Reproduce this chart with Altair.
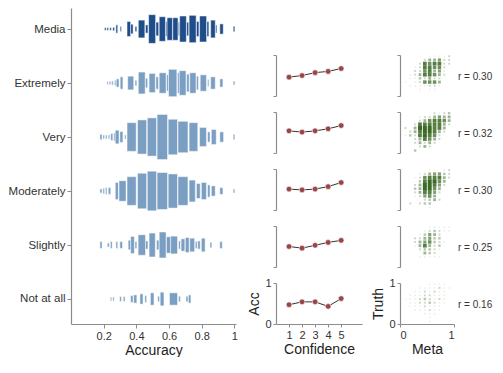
import altair as alt
import pandas as pd

FONT = "Liberation Sans"

CATS = ["Media", "Extremely", "Very", "Moderately", "Slightly", "Not at all"]

# histogram bars: (accuracy bin low, accuracy bin high, count)
HIST_MEDIA = [(0.205,0.215,4),(0.220,0.230,4),(0.237,0.247,4),(0.256,0.267,5),(0.275,0.286,12),
              (0.301,0.309,7),(0.343,0.365,22),(0.365,0.380,14),(0.392,0.403,7),(0.412,0.452,26),
              (0.456,0.471,12),(0.475,0.518,42),(0.520,0.537,20),(0.540,0.578,36),(0.580,0.588,22),
              (0.588,0.621,33),(0.623,0.655,33),(0.657,0.665,20),(0.665,0.706,38),(0.708,0.721,20),
              (0.723,0.766,40),(0.768,0.783,22),(0.787,0.830,38),(0.832,0.844,22),(0.855,0.883,26),
              (0.885,0.893,12),(0.911,0.932,15),(0.993,1.003,8)]
HIST_EXTREMELY = [(0.220,0.228,4),(0.234,0.243,5),(0.249,0.258,6),(0.266,0.275,8),(0.277,0.294,12),
                  (0.301,0.318,18),(0.347,0.384,20),(0.392,0.403,8),(0.412,0.454,32),(0.456,0.469,14),
                  (0.478,0.516,28),(0.520,0.535,18),(0.540,0.582,30),(0.586,0.597,24),(0.597,0.648,40),
                  (0.652,0.663,30),(0.663,0.704,36),(0.708,0.723,26),(0.727,0.765,30),(0.768,0.780,20),
                  (0.791,0.829,24),(0.836,0.844,10),(0.855,0.883,18),(0.911,0.930,12),(0.993,1.003,6)]
HIST_VERY = [(0.177,0.190,8),(0.196,0.205,6),(0.211,0.220,6),(0.228,0.237,6),(0.243,0.256,10),
             (0.262,0.271,12),(0.271,0.294,20),(0.299,0.318,16),(0.328,0.337,6),(0.343,0.399,42),
             (0.407,0.463,50),(0.467,0.524,56),(0.527,0.591,66),(0.595,0.652,52),(0.655,0.716,46),
             (0.723,0.776,42),(0.787,0.829,28),(0.836,0.851,15),(0.859,0.889,22),(0.911,0.934,15),
             (0.993,1.003,8)]
HIST_MODERATELY = [(0.177,0.190,6),(0.196,0.205,8),(0.211,0.220,10),(0.228,0.243,10),(0.271,0.290,25),
                   (0.294,0.337,30),(0.343,0.399,42),(0.407,0.463,52),(0.467,0.524,58),(0.527,0.591,54),
                   (0.595,0.652,50),(0.655,0.716,42),(0.723,0.761,32),(0.768,0.791,22),(0.798,0.829,25),
                   (0.836,0.851,18),(0.859,0.883,15),(0.911,0.930,10),(0.993,1.003,6)]
HIST_SLIGHTLY = [(0.177,0.190,10),(0.222,0.234,6),(0.241,0.252,10),(0.275,0.286,10),(0.299,0.315,10),
                 (0.350,0.365,14),(0.365,0.388,25),(0.392,0.403,10),(0.411,0.456,30),(0.456,0.471,12),
                 (0.478,0.516,35),(0.524,0.539,14),(0.540,0.582,38),(0.584,0.610,24),(0.610,0.652,26),
                 (0.659,0.670,12),(0.674,0.697,18),(0.700,0.723,22),(0.727,0.757,20),(0.761,0.772,10),
                 (0.776,0.791,12),(0.798,0.821,20),(0.851,0.862,8),(0.911,0.926,10)]
HIST_NOTATALL = [(0.241,0.249,6),(0.256,0.264,6),(0.298,0.309,7),(0.320,0.331,7),(0.365,0.380,10),
                 (0.384,0.403,12),(0.422,0.441,15),(0.452,0.463,10),(0.486,0.508,18),(0.531,0.542,8),
                 (0.546,0.569,20),(0.603,0.652,18),(0.659,0.670,8),(0.704,0.716,8),(0.719,0.734,12)]
HISTS = [HIST_MEDIA, HIST_EXTREMELY, HIST_VERY, HIST_MODERATELY, HIST_SLIGHTLY, HIST_NOTATALL]

# accuracy by confidence level (1..5) for each self-report group
CONF = [1, 2, 3, 4, 5]
ACC_EXTREMELY = [0.46, 0.50, 0.57, 0.60, 0.67]
ACC_VERY = [0.54, 0.51, 0.54, 0.59, 0.67]
ACC_MODERATELY = [0.51, 0.49, 0.51, 0.57, 0.67]
ACC_SLIGHTLY = [0.50, 0.46, 0.53, 0.60, 0.65]
ACC_NOTATALL = [0.47, 0.54, 0.54, 0.43, 0.62]
ACCS = [ACC_EXTREMELY, ACC_VERY, ACC_MODERATELY, ACC_SLIGHTLY, ACC_NOTATALL]

# meta vs truth 2D count grids (rows: truth high -> low; columns: meta low -> high)
META_BINS = [0.10, 0.19, 0.28, 0.37, 0.46, 0.55, 0.64, 0.73, 0.82, 0.91]
TRUTH_BINS = [0.97, 0.88, 0.79, 0.70, 0.61, 0.52, 0.43, 0.34, 0.25, 0.16, 0.06]
GRID_EXTREMELY = ["0000011112","0000244522","0002767722","0012776620","0022674510","0124776420",
                  "0113242200","1012666400","0111122100","0001011000","0000000000"]
GRID_VERY = ["0000002123","0001224544","0002467764","0027777742","2048887740","0247887420",
             "1327876200","0024764200","0024242000","0002420000","0030000000"]
GRID_MODERATELY = ["0000011012","0001245532","0012677742","0003788640","0024887520","0034886400",
                   "0024775200","0012564000","0000234200","0202330000","0000010000"]
GRID_SLIGHTLY = ["0000011111","0000123211","0001354200","0022453300","0024563210","0014742300",
                 "0002332100","0000432000","0001111100","0000000000","0000000000"]
GRID_NOTATALL = ["0000011110","0001111211","0011212110","0111221110","1112321210","0112232110",
                 "0111211100","0011121100","0000111000","0000010000","0000010000"]
GRIDS = [GRID_EXTREMELY, GRID_VERY, GRID_MODERATELY, GRID_SLIGHTLY, GRID_NOTATALL]
R_LABELS = ["r = 0.30", "r = 0.32", "r = 0.30", "r = 0.25", "r = 0.16"]

W_LEFT, H_LEFT = 165, 316
W_MID, W_RIGHT, H_SMALL = 86, 54, 41
V_GAP = 16

# ---------------- left panel ----------------
rows = []
for i, bars in enumerate(HISTS):
    for lo, hi, n in bars:
        rows.append({"idx": i, "lo": lo, "hi": hi, "n": n,
                     "grp": "media" if i == 0 else "self"})
hist_df = pd.DataFrame(rows)

label_expr = "['" + "','".join(CATS) + "'][datum.value]"
left = alt.Chart(hist_df).transform_calculate(
    y0="datum.idx - datum.n / 158", y1="datum.idx + datum.n / 158"
).mark_rect(stroke="white", strokeWidth=0.7, strokeOpacity=0.7).encode(
    x=alt.X("lo:Q", scale=alt.Scale(domain=[0, 1.01], nice=False, zero=False),
            axis=alt.Axis(values=[0.2, 0.4, 0.6, 0.8, 1],
                          labelExpr="datum.value == 1 ? '1' : format(datum.value, '.1f')",
                          title="Accuracy", titlePadding=2)),
    x2="hi:Q",
    y=alt.Y("y0:Q", scale=alt.Scale(domain=[-0.389, 5.463], reverse=True, nice=False, zero=False),
            axis=alt.Axis(values=[0, 1, 2, 3, 4, 5], labelExpr=label_expr, title=None,
                          labelFontSize=11.5)),
    y2="y1:Q",
    color=alt.Color("grp:N", scale=alt.Scale(domain=["media", "self"],
                                             range=["#1f4d8a", "#7b9fc2"]), legend=None),
).properties(width=W_LEFT, height=H_LEFT)

# ---------------- middle panels ----------------
def spacer(w):
    return alt.Chart(pd.DataFrame({"a": [0]})).mark_point(opacity=0).encode(
        x=alt.X("a:Q", axis=None), y=alt.Y("a:Q", axis=None)
    ).properties(width=w, height=31)

mids = [spacer(W_MID)]
for k, acc in enumerate(ACCS):
    bottom = k == len(ACCS) - 1
    df = pd.DataFrame({"conf": CONF, "acc": acc})
    if bottom:
        xax = alt.Axis(values=CONF, title="Confidence", tickSize=3, format="d", titlePadding=2)
        yax = alt.Axis(values=[0, 1], title="Acc", tickSize=3, format="d", titlePadding=3)
    else:
        xax = None
        yax = alt.Axis(values=[0, 1], title=None, labels=False, tickSize=3)
    base = alt.Chart(df).encode(
        x=alt.X("conf:Q", scale=alt.Scale(domain=[0, 6.6], nice=False), axis=xax),
        y=alt.Y("acc:Q", scale=alt.Scale(domain=[0, 1], nice=False), axis=yax),
    )
    p = (base.mark_line(color="#333333", strokeWidth=1) +
         base.mark_circle(size=32, color="#9a4646", opacity=1, stroke="white", strokeWidth=0.6)
         ).properties(width=W_MID, height=H_SMALL)
    mids.append(p)
mid = alt.vconcat(*mids, spacing=V_GAP, bounds="flush")

# ---------------- right panels ----------------
rights = [spacer(W_RIGHT)]
for k, grid in enumerate(GRIDS):
    bottom = k == len(GRIDS) - 1
    cells = []
    for r, line in enumerate(grid):
        for c, ch in enumerate(line):
            if ch != "0":
                cells.append({"meta": META_BINS[c], "truth": TRUTH_BINS[r], "n": int(ch)})
    df = pd.DataFrame(cells)
    if bottom:
        xax = alt.Axis(values=[0, 1], title="Meta", tickSize=3, format="d", titlePadding=2)
        yax = alt.Axis(values=[0, 1], title="Truth", tickSize=3, format="d", titlePadding=3)
    else:
        xax = None
        yax = alt.Axis(values=[0, 1], title=None, labels=False, tickSize=3)
    sq = alt.Chart(df).mark_square(color="#3b6a25").encode(
        x=alt.X("meta:Q", scale=alt.Scale(domain=[0, 1], nice=False), axis=xax),
        y=alt.Y("truth:Q", scale=alt.Scale(domain=[0, 1], nice=False), axis=yax),
        size=alt.Size("n:Q", scale=alt.Scale(domain=[0, 8], range=[0, 16]), legend=None),
        opacity=alt.Opacity("n:Q", scale=alt.Scale(domain=[0, 8], range=[0.0, 1.0]), legend=None),
    )
    txt = alt.Chart(pd.DataFrame({"r": [R_LABELS[k]]})).mark_text(
        align="left", baseline="middle", fontSize=10, color="#333333", font=FONT
    ).encode(text="r:N", x=alt.value(W_RIGHT + 4), y=alt.value(22))
    rights.append((sq + txt).properties(width=W_RIGHT, height=H_SMALL))
right = alt.vconcat(*rights, spacing=V_GAP, bounds="flush")

chart = alt.hconcat(left, mid, right, spacing=9).properties(padding=0).configure_view(
    stroke=None
).configure_concat(spacing=9).configure_axis(
    grid=False, labelFont=FONT, titleFont=FONT, labelFontSize=11, titleFontSize=14,
    titleFontWeight="normal", labelColor="#333333", titleColor="#222222",
    domainColor="#8c8c8c", tickColor="#8c8c8c", domainWidth=1.2, tickSize=4
)

chart.save("out.html", embed_options={"renderer": "svg", "actions": False})
